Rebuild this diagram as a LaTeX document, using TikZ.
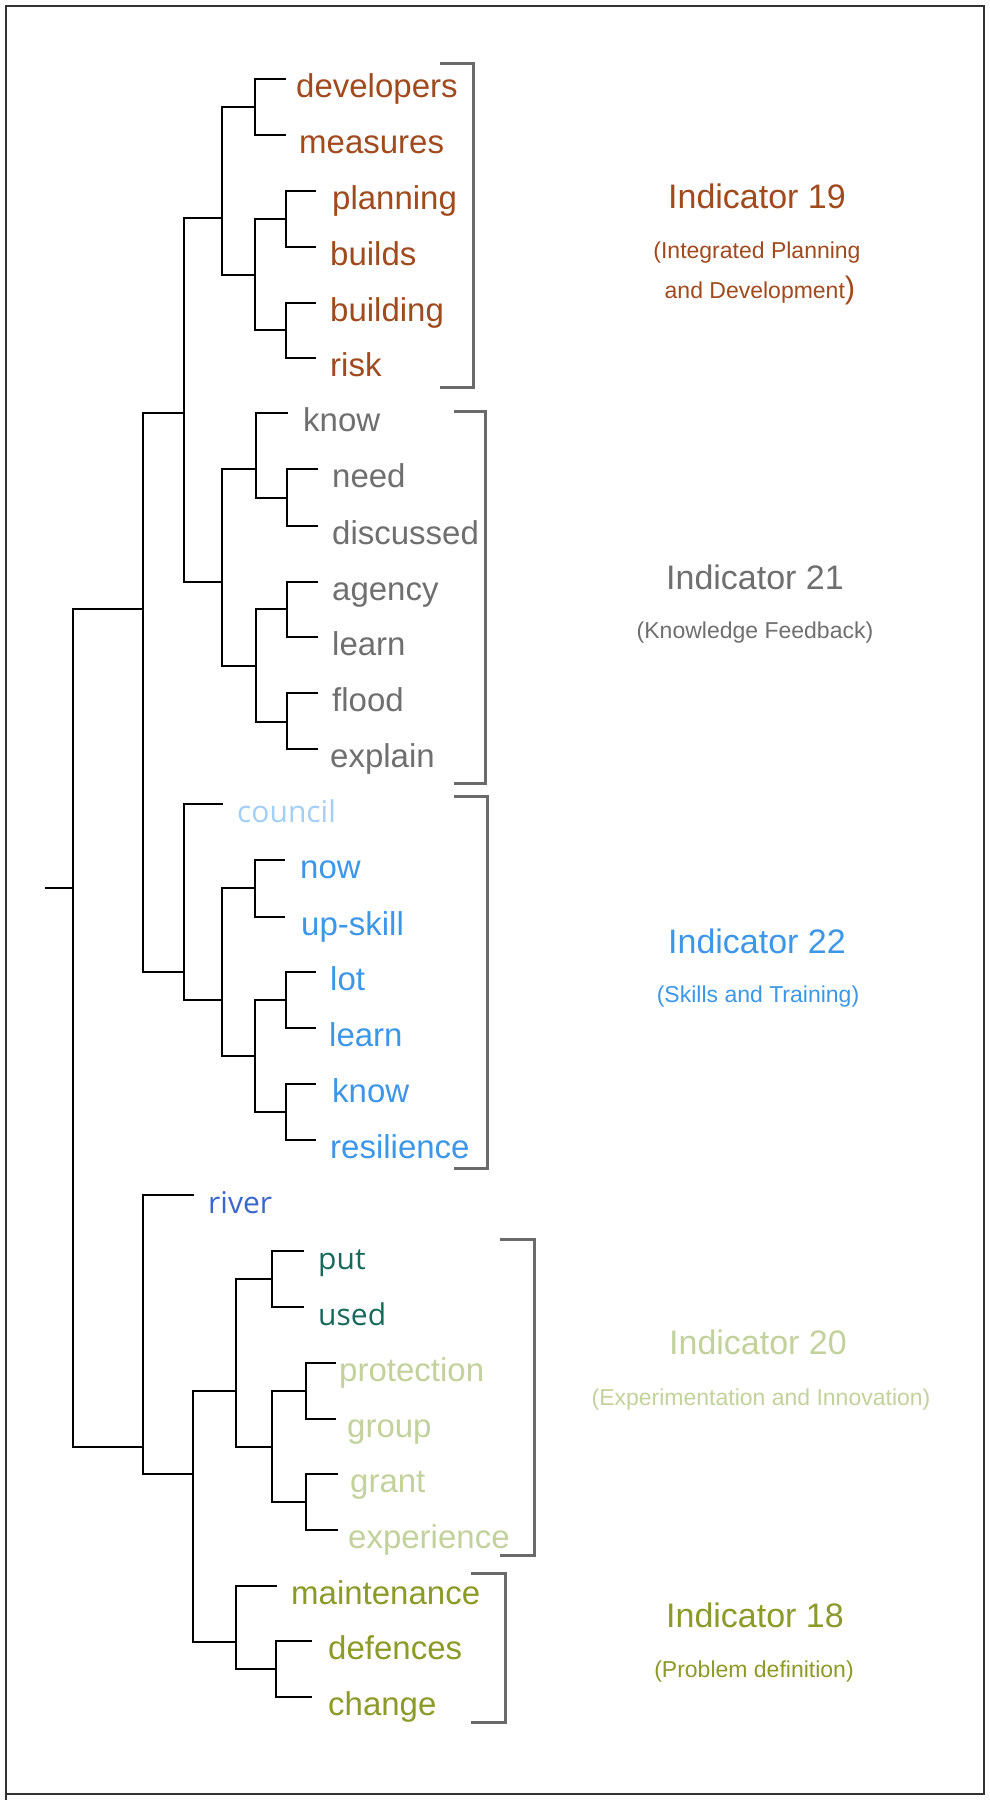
\documentclass[tikz,border=0pt]{standalone}
\usepackage{fontspec}
\setmainfont{Liberation Sans}
\newfontfamily\segoe{Open Sans}
\definecolor{ibrown}{HTML}{A04A1E}
\definecolor{igray}{HTML}{6F6F6F}
\definecolor{iblue}{HTML}{3D97E8}
\definecolor{ipale}{HTML}{A3CEF5}
\definecolor{iriver}{HTML}{3B66CC}
\definecolor{iteal}{HTML}{17695C}
\definecolor{ilight}{HTML}{C3D29C}
\definecolor{iolive}{HTML}{8C9A28}
\definecolor{bracketgray}{HTML}{6A6A6A}
\tikzset{
  branch/.style={draw=black, line width=2.7pt, line cap=rect},
  bracket/.style={draw=bracketgray, line width=3pt},
  leaf/.style={anchor=base west, inner sep=0pt, font=\fontsize{33}{33}\selectfont},
  leafs/.style={anchor=base west, inner sep=0pt, font=\segoe\fontsize{30}{30}\selectfont},
  title/.style={anchor=base, inner sep=0pt, font=\fontsize{34}{34}\selectfont},
  subtitle/.style={anchor=base, inner sep=0pt, font=\fontsize{23}{23}\selectfont},
}
\begin{document}
\begin{tikzpicture}[x=1pt, y=-1pt]
\useasboundingbox (0,0) rectangle (990,1800);
\fill[white] (0,0) rectangle (990,1800);
\draw[draw=black!80, line width=2pt] (6,1800) -- (6,6) -- (984,6) -- (984,1794) -- (6,1794);

% ---- leaf tips ----
\coordinate (t-developers) at (285,79);
\coordinate (t-measures) at (285,135);
\coordinate (t-planning) at (315,191);
\coordinate (t-builds) at (315,247);
\coordinate (t-building) at (315,303);
\coordinate (t-risk) at (315,358);
\coordinate (t-know) at (287,413);
\coordinate (t-need) at (317,469);
\coordinate (t-discussed) at (317,526);
\coordinate (t-agency) at (317,582);
\coordinate (t-learn) at (317,637);
\coordinate (t-flood) at (317,693);
\coordinate (t-explain) at (317,749);
\coordinate (t-council) at (222,804);
\coordinate (t-now) at (284,860);
\coordinate (t-upskill) at (284,917);
\coordinate (t-lot) at (315,972);
\coordinate (t-learnb) at (315,1028);
\coordinate (t-knowb) at (315,1084);
\coordinate (t-resilience) at (315,1140);
\coordinate (t-river) at (193,1195);
\coordinate (t-put) at (303,1251);
\coordinate (t-used) at (303,1307);
\coordinate (t-protection) at (335,1363);
\coordinate (t-group) at (335,1419);
\coordinate (t-grant) at (337,1474);
\coordinate (t-experience) at (337,1530);
\coordinate (t-maintenance) at (276,1586);
\coordinate (t-defences) at (311,1641);
\coordinate (t-change) at (311,1697);

% ---- merge points ----
\coordinate (a1) at (255,107);
\coordinate (a2) at (286,219);
\coordinate (a3) at (286,330);
\coordinate (a4) at (255,275);
\coordinate (a5) at (222,218);
\coordinate (b1) at (287,498);
\coordinate (b2) at (256,469);
\coordinate (b3) at (287,609);
\coordinate (b4) at (287,722);
\coordinate (b5) at (256,666);
\coordinate (b6) at (222,582);
\coordinate (ab) at (184,413);
\coordinate (c1) at (255,888);
\coordinate (c2) at (286,1000);
\coordinate (c3) at (286,1112);
\coordinate (c4) at (255,1056);
\coordinate (c5) at (222,1000);
\coordinate (c6) at (184,972);
\coordinate (abc) at (143,609);
\coordinate (d1) at (272,1279);
\coordinate (d2) at (306,1391);
\coordinate (d3) at (306,1502);
\coordinate (d4) at (272,1447);
\coordinate (d5) at (236,1391);
\coordinate (e1) at (276,1669);
\coordinate (e2) at (236,1642);
\coordinate (de) at (193,1474);
\coordinate (rde) at (143,1447);
\coordinate (root) at (73,888);
\coordinate (stub) at (46,888);

% ---- dendrogram branches ----
\path[branch]
  (a1) |- (t-developers) (a1) |- (t-measures)
  (a2) |- (t-planning) (a2) |- (t-builds)
  (a3) |- (t-building) (a3) |- (t-risk)
  (a4) |- (a2) (a4) |- (a3)
  (a5) |- (a1) (a5) |- (a4)
  (b1) |- (t-need) (b1) |- (t-discussed)
  (b2) |- (t-know) (b2) |- (b1)
  (b3) |- (t-agency) (b3) |- (t-learn)
  (b4) |- (t-flood) (b4) |- (t-explain)
  (b5) |- (b3) (b5) |- (b4)
  (b6) |- (b2) (b6) |- (b5)
  (ab) |- (a5) (ab) |- (b6)
  (c1) |- (t-now) (c1) |- (t-upskill)
  (c2) |- (t-lot) (c2) |- (t-learnb)
  (c3) |- (t-knowb) (c3) |- (t-resilience)
  (c4) |- (c2) (c4) |- (c3)
  (c5) |- (c1) (c5) |- (c4)
  (c6) |- (t-council) (c6) |- (c5)
  (abc) |- (ab) (abc) |- (c6)
  (d1) |- (t-put) (d1) |- (t-used)
  (d2) |- (t-protection) (d2) |- (t-group)
  (d3) |- (t-grant) (d3) |- (t-experience)
  (d4) |- (d2) (d4) |- (d3)
  (d5) |- (d1) (d5) |- (d4)
  (e1) |- (t-defences) (e1) |- (t-change)
  (e2) |- (t-maintenance) (e2) |- (e1)
  (de) |- (d5) (de) |- (e2)
  (rde) |- (t-river) (rde) |- (de)
  (root) |- (abc) (root) |- (rde)
  (stub) -- (root);

% ---- leaf labels ----
\node[leaf, text=ibrown] (l-developers) at (296,97) {developers};
\node[leaf, text=ibrown] (l-measures) at (299,153) {measures};
\node[leaf, text=ibrown] (l-planning) at (332,209) {planning};
\node[leaf, text=ibrown] (l-builds) at (330,265) {builds};
\node[leaf, text=ibrown] (l-building) at (330,321) {building};
\node[leaf, text=ibrown] (l-risk) at (330,376) {risk};
\node[leaf, text=igray] (l-know) at (303,431) {know};
\node[leaf, text=igray] (l-need) at (332,487) {need};
\node[leaf, text=igray] (l-discussed) at (332,544) {discussed};
\node[leaf, text=igray] (l-agency) at (332,600) {agency};
\node[leaf, text=igray] (l-learn) at (332,655) {learn};
\node[leaf, text=igray] (l-flood) at (332,711) {flood};
\node[leaf, text=igray] (l-explain) at (330,767) {explain};
\node[leafs, text=ipale] (l-council) at (237,822) {council};
\node[leaf, text=iblue] (l-now) at (300,878) {now};
\node[leaf, text=iblue] (l-upskill) at (301,935) {up-skill};
\node[leaf, text=iblue] (l-lot) at (330,990) {lot};
\node[leaf, text=iblue] (l-learnb) at (329,1046) {learn};
\node[leaf, text=iblue] (l-knowb) at (332,1102) {know};
\node[leaf, text=iblue] (l-resilience) at (330,1158) {resilience};
\node[leafs, text=iriver] (l-river) at (208,1213) {river};
\node[leafs, text=iteal] (l-put) at (318,1269) {put};
\node[leafs, text=iteal] (l-used) at (318,1325) {used};
\node[leaf, text=ilight] (l-protection) at (339,1381) {protection};
\node[leaf, text=ilight] (l-group) at (347,1437) {group};
\node[leaf, text=ilight] (l-grant) at (350,1492) {grant};
\node[leaf, text=ilight] (l-experience) at (348,1548) {experience};
\node[leaf, text=iolive] (l-maintenance) at (291,1604) {maintenance};
\node[leaf, text=iolive] (l-defences) at (328,1659) {defences};
\node[leaf, text=iolive] (l-change) at (328,1715) {change};

% ---- group brackets ----
\path[bracket] (440,63) -- (473,63) -- (473,387) -- (440,387);
\path[bracket] (454,411) -- (485,411) -- (485,783) -- (454,783);
\path[bracket] (454,796) -- (487,796) -- (487,1168) -- (454,1168);
\path[bracket] (500,1239) -- (534,1239) -- (534,1555) -- (500,1555);
\path[bracket] (471,1573) -- (505,1573) -- (505,1722) -- (471,1722);

% ---- indicator captions ----
\node[title, text=ibrown] (h19) at (757,208) {Indicator 19};
\node[subtitle, text=ibrown] (s19a) at (757,258) {(Integrated Planning};
\node[subtitle, text=ibrown] (s19b) at (760,298) {and Development{\fontsize{31}{31}\selectfont)}};
\node[title, text=igray] (h21) at (755,589) {Indicator 21};
\node[subtitle, text=igray] (s21) at (755,638) {(Knowledge Feedback)};
\node[title, text=iblue] (h22) at (757,953) {Indicator 22};
\node[subtitle, text=iblue] (s22) at (758,1002) {(Skills and Training)};
\node[title, text=ilight] (h20) at (758,1354) {Indicator 20};
\node[subtitle, text=ilight] (s20) at (761,1405) {(Experimentation and Innovation)};
\node[title, text=iolive] (h18) at (755,1627) {Indicator 18};
\node[subtitle, text=iolive] (s18) at (754,1677) {(Problem definition)};
\end{tikzpicture}
\end{document}
